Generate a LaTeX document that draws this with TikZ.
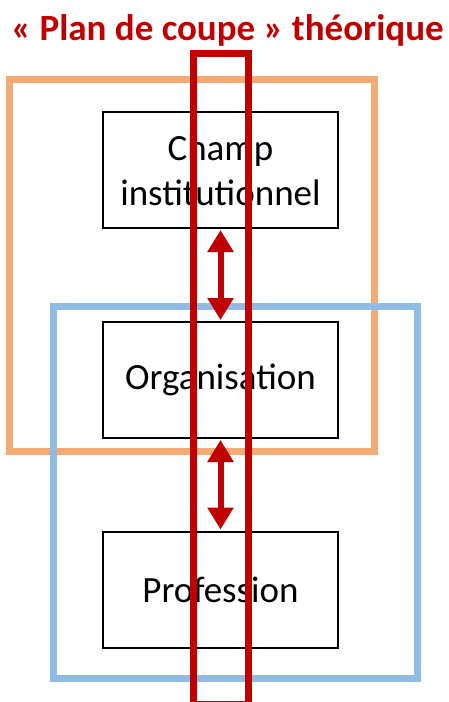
\documentclass[tikz,border=0pt]{standalone}
\usepackage{fontspec}
\setmainfont{Carlito}
\usepackage{xcolor}
\usetikzlibrary{arrows.meta}

\definecolor{rouge}{HTML}{C00000}
\definecolor{orange}{HTML}{F4AA74}
\definecolor{bleu}{HTML}{90BBE2}

\tikzset{
	niveau/.style = {draw, line width = 2pt, minimum width = 235pt, minimum height = 116pt, align = center, font = \fontsize{37}{45}\selectfont},
	fleche/.style = {rouge, line width = 6pt, {Triangle[width = 25pt, length = 22pt]}-{Triangle[width = 25pt, length = 22pt]}, shorten >= 1pt, shorten <= 1pt}
}

\begin{document}
\begin{tikzpicture}[x = 1pt, y = -1pt]
		\def\xc{220.5};
		\def\w{7};
		
		\useasboundingbox (0,0) rectangle (448,702);
		
		\node [anchor = base, rouge, font = \bfseries\fontsize{37}{42}\selectfont] (titre) at (227.5,40) {« Plan de coupe » théorique};
		
		\draw [orange, line width = \w pt] (9,79) rectangle (374,451);
		\draw [bleu, line width = \w pt] (53,306) rectangle (417,678);
		
		\node [niveau] (champ) at (\xc,170) {Champ\\institutionnel};
		\node [niveau] (orga) at (\xc,380) {Organisation};
		\node [niveau] (prof) at (\xc,589.5) {Profession};
		
		\draw [fleche] (champ.south) -- (orga.north);
		\draw [fleche] (orga.south) -- (prof.north);
		
		\draw [rouge, line width = 6.5pt] (193.5,53.5) rectangle (248.5,704);
	\end{tikzpicture}
\end{document}
